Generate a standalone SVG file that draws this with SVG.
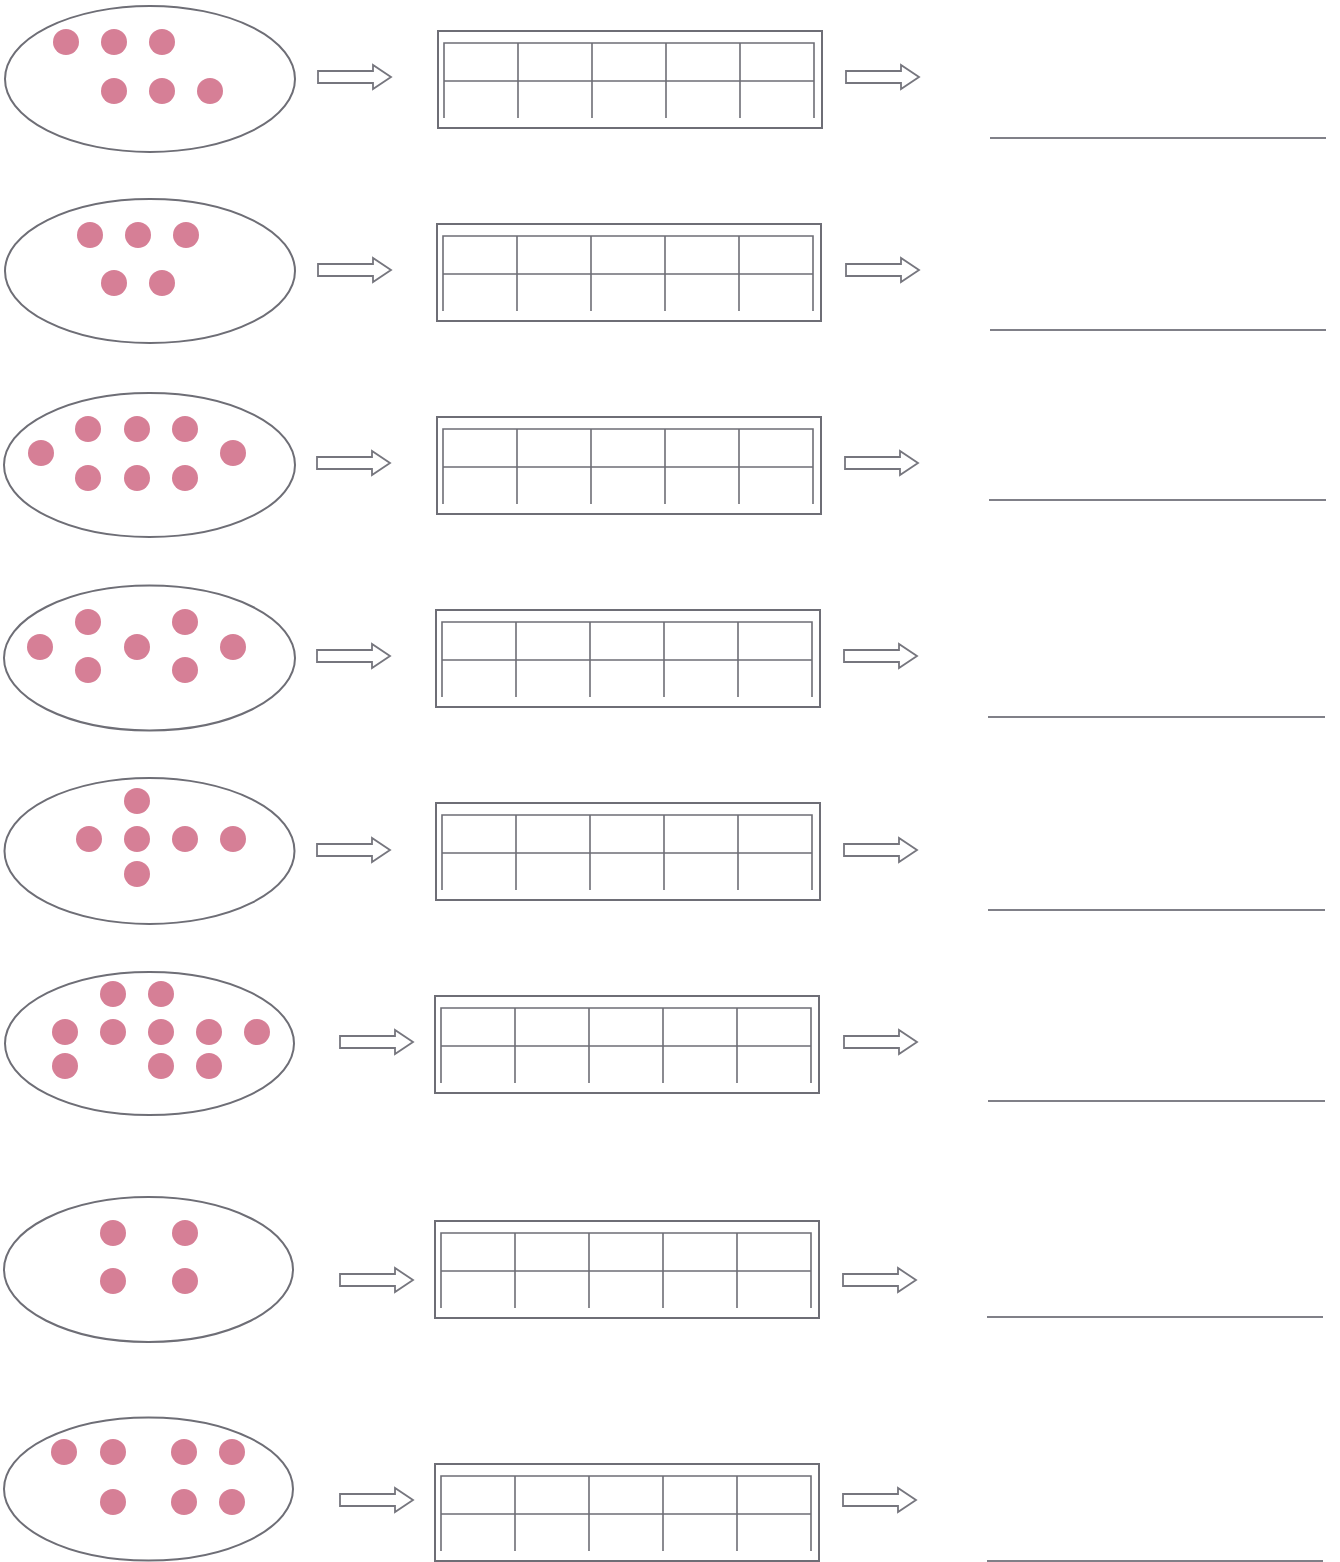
<svg xmlns="http://www.w3.org/2000/svg" width="1340" height="1562" viewBox="0 0 1340 1562">
<style>
.oval{fill:none;stroke:#6e6e76;stroke-width:2}
.dot{fill:#d67f96}
.frame{fill:none;stroke:#6e6e76;stroke-width:2}
.grid{fill:none;stroke:#6e6e76;stroke-width:1.6}
.arrow{fill:#fff;stroke:#76767e;stroke-width:1.8;stroke-linejoin:miter}
.line{stroke:#808088;stroke-width:2}
</style>
<defs>
<g id="tenframe">
<rect class="frame" x="0" y="0" width="384" height="97"/>
<path class="grid" d="M6,87V12H376V87M6,50H376M80,12V87M154,12V87M228,12V87M302,12V87"/>
</g>
<path id="arr" class="arrow" d="M0,-6H55V-12L73,0L55,12V6H0Z"/>
</defs>
<rect width="1340" height="1562" fill="#fff"/>

<g id="sets">
<g id="set1"><ellipse class="oval" cx="150" cy="79" rx="145" ry="73"/>
<g class="dot"><circle cx="66" cy="42" r="13"/><circle cx="114" cy="42" r="13"/><circle cx="162" cy="42" r="13"/><circle cx="114" cy="91" r="13"/><circle cx="162" cy="91" r="13"/><circle cx="210" cy="91" r="13"/></g></g>
<g id="set2"><ellipse class="oval" cx="150" cy="271" rx="145" ry="72"/>
<g class="dot"><circle cx="90" cy="235" r="13"/><circle cx="138" cy="235" r="13"/><circle cx="186" cy="235" r="13"/><circle cx="114" cy="283" r="13"/><circle cx="162" cy="283" r="13"/></g></g>
<g id="set3"><ellipse class="oval" cx="149.5" cy="465" rx="145.5" ry="72"/>
<g class="dot"><circle cx="41" cy="453" r="13"/><circle cx="88" cy="429" r="13"/><circle cx="137" cy="429" r="13"/><circle cx="185" cy="429" r="13"/><circle cx="233" cy="453" r="13"/><circle cx="88" cy="478" r="13"/><circle cx="137" cy="478" r="13"/><circle cx="185" cy="478" r="13"/></g></g>
<g id="set4"><ellipse class="oval" cx="149.5" cy="658" rx="145.5" ry="72.5"/>
<g class="dot"><circle cx="40" cy="647" r="13"/><circle cx="88" cy="622" r="13"/><circle cx="137" cy="647" r="13"/><circle cx="185" cy="622" r="13"/><circle cx="233" cy="647" r="13"/><circle cx="88" cy="670" r="13"/><circle cx="185" cy="670" r="13"/></g></g>
<g id="set5"><ellipse class="oval" cx="149.5" cy="851" rx="145" ry="73"/>
<g class="dot"><circle cx="137" cy="801" r="13"/><circle cx="89" cy="839" r="13"/><circle cx="137" cy="839" r="13"/><circle cx="185" cy="839" r="13"/><circle cx="233" cy="839" r="13"/><circle cx="137" cy="874" r="13"/></g></g>
<g id="set6"><ellipse class="oval" cx="149.5" cy="1043.5" rx="144.5" ry="71.5"/>
<g class="dot"><circle cx="113" cy="994" r="13"/><circle cx="161" cy="994" r="13"/><circle cx="65" cy="1032" r="13"/><circle cx="113" cy="1032" r="13"/><circle cx="161" cy="1032" r="13"/><circle cx="209" cy="1032" r="13"/><circle cx="257" cy="1032" r="13"/><circle cx="65" cy="1066" r="13"/><circle cx="161" cy="1066" r="13"/><circle cx="209" cy="1066" r="13"/></g></g>
<g id="set7"><ellipse class="oval" cx="148.5" cy="1269.5" rx="144.5" ry="72.5"/>
<g class="dot"><circle cx="113" cy="1233" r="13"/><circle cx="185" cy="1233" r="13"/><circle cx="113" cy="1281" r="13"/><circle cx="185" cy="1281" r="13"/></g></g>
<g id="set8"><ellipse class="oval" cx="148.5" cy="1489" rx="144.5" ry="71.5"/>
<g class="dot"><circle cx="64" cy="1452" r="13"/><circle cx="113" cy="1452" r="13"/><circle cx="184" cy="1452" r="13"/><circle cx="232" cy="1452" r="13"/><circle cx="113" cy="1502" r="13"/><circle cx="184" cy="1502" r="13"/><circle cx="232" cy="1502" r="13"/></g></g>
</g>

<g id="frames">
<use id="frame1" href="#tenframe" x="438" y="31"/>
<use id="frame2" href="#tenframe" x="437" y="224"/>
<use id="frame3" href="#tenframe" x="437" y="417"/>
<use id="frame4" href="#tenframe" x="436" y="610"/>
<use id="frame5" href="#tenframe" x="436" y="803"/>
<use id="frame6" href="#tenframe" x="435" y="996"/>
<use id="frame7" href="#tenframe" x="435" y="1221"/>
<use id="frame8" href="#tenframe" x="435" y="1464"/>
</g>

<g id="answers">
<line class="line" x1="990" y1="138" x2="1326" y2="138"/>
<line class="line" x1="990" y1="330" x2="1326" y2="330"/>
<line class="line" x1="989" y1="500" x2="1326" y2="500"/>
<line class="line" x1="988" y1="717" x2="1325" y2="717"/>
<line class="line" x1="988" y1="910" x2="1325" y2="910"/>
<line class="line" x1="988" y1="1101" x2="1325" y2="1101"/>
<line class="line" x1="987" y1="1317" x2="1323" y2="1317"/>
<line class="line" x1="987" y1="1561" x2="1323" y2="1561"/>
</g>

<g id="connectors">
<use href="#arr" x="318" y="77"/><use href="#arr" x="846" y="77"/>
<use href="#arr" x="318" y="270"/><use href="#arr" x="846" y="270"/>
<use href="#arr" x="317" y="463"/><use href="#arr" x="845" y="463"/>
<use href="#arr" x="317" y="656"/><use href="#arr" x="844" y="656"/>
<use href="#arr" x="317" y="850"/><use href="#arr" x="844" y="850"/>
<use href="#arr" x="340" y="1042"/><use href="#arr" x="844" y="1042"/>
<use href="#arr" x="340" y="1280"/><use href="#arr" x="843" y="1280"/>
<use href="#arr" x="340" y="1500"/><use href="#arr" x="843" y="1500"/>
</g>
</svg>
